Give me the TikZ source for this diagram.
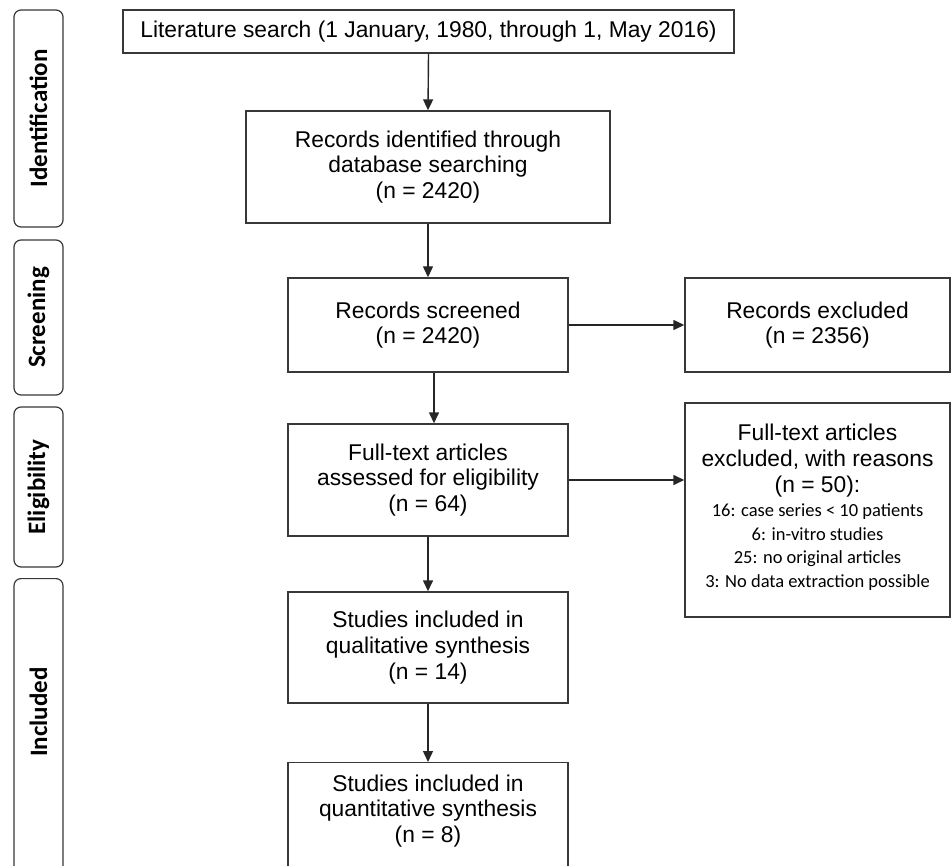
\documentclass[tikz,border=0pt]{standalone}
\usepackage{fontspec}
\setmainfont{Liberation Sans}
\newfontfamily\calfont{Carlito}
\usetikzlibrary{arrows.meta}
\begin{document}
\begin{tikzpicture}[x=1pt,y=-1pt,
  box/.style={draw=black!78, line width=1.4pt, fill=white, align=center, inner sep=0pt,
    font=\fontsize{22.8}{25.8}\selectfont},
  txt/.style={align=center, inner sep=0pt, font=\fontsize{22.8}{25.8}\selectfont},
  reasons/.style={align=center, inner sep=0pt, font=\calfont\fontsize{18.5}{23.5}\selectfont},
  phase/.style={draw=black!78, line width=1.2pt, rounded corners=7pt, inner sep=0pt},
  phasetext/.style={rotate=90, font=\calfont\bfseries\fontsize{25}{28}\selectfont},
  arr/.style={line width=1.4pt, draw=black!85, -{Triangle[length=11pt,width=10pt]}}]
\useasboundingbox (0,0) rectangle (952,866);
\clip (0,0) rectangle (952,866);
% phase labels
\node[phase, phasetext, minimum width=217pt, minimum height=49pt] (ident) at (38.5,118.5) {Identification};
\node[phase, phasetext, minimum width=155pt, minimum height=49pt] (screen) at (38.5,317.5) {Screening};
\node[phase, phasetext, minimum width=160pt, minimum height=49pt] (elig) at (38.5,487) {Eligibility};
\node[phase, minimum width=49pt, minimum height=330pt, anchor=north] (incl) at (38.5,578) {};
\node[phasetext] (incltext) at (38.5,712) {Included};
% main boxes
\node[box, minimum width=611pt, minimum height=43pt] (lit) at (428.5,31.5) {Literature search (1 January, 1980, through 1, May 2016)};
\node[box, minimum width=364pt, minimum height=112pt] (rid) at (428,167) {Records identified through\\database searching\\(n = 2420)};
\node[box, minimum width=280pt, minimum height=94pt] (scr) at (428,325) {Records screened\\(n = 2420)};
\node[box, minimum width=265pt, minimum height=94pt] (exc) at (817.5,325) {Records excluded\\(n = 2356)};
\node[box, minimum width=280pt, minimum height=112pt] (ft) at (428,480) {Full-text articles\\assessed for eligibility\\(n = 64)};
\node[box, minimum width=265pt, minimum height=214pt] (ftx) at (817.5,510) {};
\node[txt, anchor=base] (ftxhead) at (817.5,492) {Full-text articles\\excluded, with reasons\\(n = 50):};
\node[reasons, anchor=base] (ftxreasons) at (817.5,587) {16: case series < 10 patients\\6: in-vitro studies\\25: no original articles\\3: No data extraction possible};
\node[box, minimum width=280pt, minimum height=111pt] (qual) at (428,647.5) {Studies included in\\qualitative synthesis\\(n = 14)};
\node[box, minimum width=280pt, minimum height=130pt, anchor=north] (quant) at (428,762) {};
\node[txt] (quanttext) at (428,811) {Studies included in\\quantitative synthesis\\(n = 8)};
% arrows
\draw[arr] (lit.south) -- (rid.north);
\draw[arr] (rid.south) -- (scr.north);
\draw[arr] ([xshift=6pt]scr.south) -- ([xshift=6pt]ft.north);
\draw[arr] (ft.south) -- (qual.north);
\draw[arr] (qual.south) -- (quant.north);
\draw[arr] (scr.east) -- (exc.west);
\draw[arr] (ft.east) -- (ft.east -| ftx.west);
\end{tikzpicture}
\end{document}
